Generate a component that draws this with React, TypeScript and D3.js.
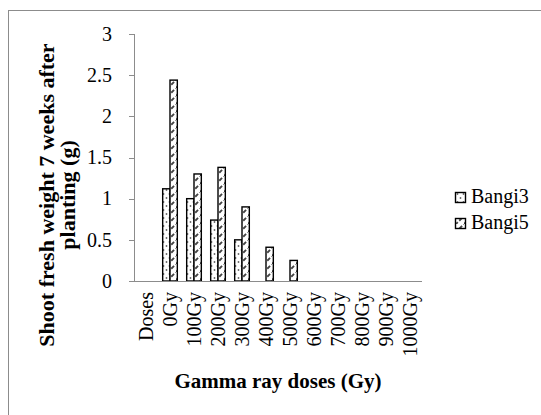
import React, { useRef, useEffect } from 'react';
import * as d3 from 'd3';

const categories = ['Doses', '0Gy', '100Gy', '200Gy', '300Gy', '400Gy', '500Gy', '600Gy', '700Gy', '800Gy', '900Gy', '1000Gy'];
const bangi3 = [0, 1.12, 1.0, 0.74, 0.5, 0, 0, 0, 0, 0, 0, 0];
const bangi5 = [0, 2.44, 1.3, 1.38, 0.9, 0.41, 0.25, 0, 0, 0, 0, 0];
const seriesNames = ['Bangi3', 'Bangi5'];
const yTicks = [0, 0.5, 1, 1.5, 2, 2.5, 3];

const FONT = "'Liberation Serif', Tinos, 'Times New Roman', Times, 'DejaVu Serif', serif";

const App: React.FC = () => {
  const ref = useRef<SVGSVGElement | null>(null);

  useEffect(() => {
    if (!ref.current) return;
    const width = 541;
    const height = 415;
    const svg = d3.select(ref.current);
    svg.selectAll('*').remove();
    svg.attr('width', width).attr('height', height).style('font-family', FONT);

    // pattern fills
    const defs = svg.append('defs');
    const dots = defs.append('pattern')
      .attr('id', 'dots')
      .attr('patternUnits', 'userSpaceOnUse')
      .attr('width', 6)
      .attr('height', 8);
    dots.append('rect').attr('width', 6).attr('height', 8).attr('fill', '#fff');
    dots.append('circle').attr('cx', 1.5).attr('cy', 2).attr('r', 0.9).attr('fill', '#666');
    dots.append('circle').attr('cx', 4.5).attr('cy', 6).attr('r', 0.9).attr('fill', '#666');

    const diag = defs.append('pattern')
      .attr('id', 'diag')
      .attr('patternUnits', 'userSpaceOnUse')
      .attr('width', 8)
      .attr('height', 8);
    diag.append('rect').attr('width', 8).attr('height', 8).attr('fill', '#fff');
    diag.append('path')
      .attr('d', 'M-1,9 L9,-1')
      .attr('stroke', '#444')
      .attr('stroke-width', 1.8)
      .attr('stroke-dasharray', '4,2');

    // outer frame
    svg.append('rect')
      .attr('x', 8.5).attr('y', 10.5)
      .attr('width', 700).attr('height', 600)
      .attr('fill', '#fff')
      .attr('stroke', '#8c8c8c');

    const x0 = d3.scaleBand<string>()
      .domain(categories)
      .range([134, 422])
      .paddingInner(0.39)
      .paddingOuter(0.195);
    const x1 = d3.scaleBand<string>()
      .domain(seriesNames)
      .range([0, x0.bandwidth()]);
    const y = d3.scaleLinear().domain([0, 3]).range([281, 34]);

    // y axis
    const yAxis = svg.append('g');
    yAxis.append('line')
      .attr('x1', 134.5).attr('x2', 134.5)
      .attr('y1', y(3)).attr('y2', y(0))
      .attr('stroke', '#8c8c8c');
    yTicks.forEach(t => {
      yAxis.append('line')
        .attr('x1', 129).attr('x2', 134.5)
        .attr('y1', Math.round(y(t)) + 0.5).attr('y2', Math.round(y(t)) + 0.5)
        .attr('stroke', '#8c8c8c');
      yAxis.append('text')
        .attr('x', 112)
        .attr('y', y(t))
        .attr('dy', '0.34em')
        .attr('text-anchor', 'end')
        .attr('font-size', 20)
        .text(String(t));
    });

    // bars
    const data = [bangi3, bangi5];
    const fills = ['url(#dots)', 'url(#diag)'];
    data.forEach((vals, si) => {
      svg.append('g')
        .selectAll('rect')
        .data(vals.map((v, i) => ({ v, c: categories[i] })).filter(d => d.v > 0))
        .enter()
        .append('rect')
        .attr('x', d => (x0(d.c) as number) + (x1(seriesNames[si]) as number))
        .attr('y', d => y(d.v))
        .attr('width', x1.bandwidth())
        .attr('height', d => y(0) - y(d.v))
        .attr('fill', fills[si])
        .attr('stroke', '#000')
        .attr('stroke-width', 1.4);
    });

    // x axis
    svg.append('line')
      .attr('x1', 134).attr('x2', 422)
      .attr('y1', 281.5).attr('y2', 281.5)
      .attr('stroke', '#8c8c8c');

    categories.forEach(c => {
      const cx = (x0(c) as number) + x0.bandwidth() / 2;
      svg.append('text')
        .attr('transform', `translate(${cx + 7},292) rotate(-90)`)
        .attr('text-anchor', 'end')
        .attr('font-size', 20)
        .text(c);
    });

    // axis titles
    svg.append('text')
      .attr('x', 278)
      .attr('y', 388)
      .attr('text-anchor', 'middle')
      .attr('font-weight', 'bold')
      .attr('font-size', 21)
      .text('Gamma ray doses (Gy)');

    const yTitle = svg.append('text')
      .attr('transform', 'translate(54,195) rotate(-90)')
      .attr('text-anchor', 'middle')
      .attr('font-weight', 'bold')
      .attr('font-size', 22);
    yTitle.append('tspan').attr('x', 0).attr('y', 0).text('Shoot fresh weight 7 weeks after');
    yTitle.append('tspan').attr('x', 0).attr('y', 21).text('planting (g)');

    // legend
    const legend = svg.append('g');
    seriesNames.forEach((name, i) => {
      const ly = 192.5 + i * 26;
      legend.append('rect')
        .attr('x', 455.5).attr('y', ly)
        .attr('width', 10).attr('height', 10)
        .attr('fill', fills[i])
        .attr('stroke', '#000')
        .attr('stroke-width', 1.4);
      legend.append('text')
        .attr('x', 471)
        .attr('y', ly + 10.5)
        .attr('font-size', 20)
        .text(name);
    });
  }, []);

  return (
    <div style={{ position: 'absolute', left: 0, top: 0 }}>
      <svg ref={ref} style={{ display: 'block' }} />
    </div>
  );
};

export default App;
